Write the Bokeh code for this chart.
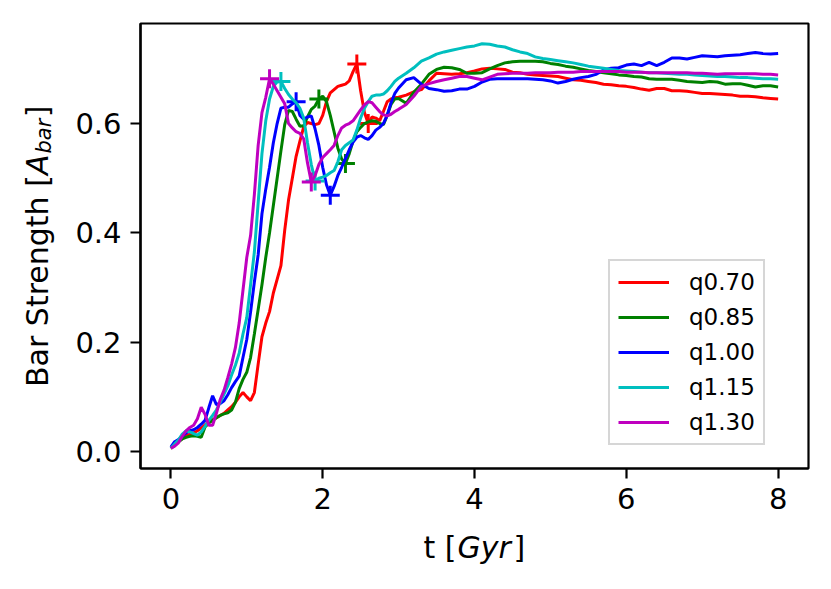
import math
from bokeh.plotting import figure
from bokeh.layouts import column, row
from bokeh.models import Label, Legend, LegendItem, FixedTicker, NumeralTickFormatter, Range1d
from bokeh.embed import file_html
from bokeh.resources import INLINE

# time grid (Gyr): 0.05 steps to 3.0, then 0.1 steps to 8.0
T = [round(0.05 * i, 2) for i in range(61)] + [round(3.0 + 0.1 * i, 1) for i in range(1, 51)]

LABELS = ["q0.70", "q0.85", "q1.00", "q1.15", "q1.30"]
COLORS = ["#ff0000", "#008000", "#0000ff", "#00bfbf", "#bf00bf"]

q070 = [0.006, 0.012, 0.018, 0.024, 0.030, 0.031, 0.034, 0.038, 0.043, 0.049,
        0.054, 0.058, 0.062, 0.066, 0.070, 0.076, 0.082, 0.090, 0.100, 0.108,
        0.100, 0.093, 0.108, 0.160, 0.210, 0.235, 0.256, 0.290, 0.315, 0.340,
        0.405, 0.460, 0.500, 0.540, 0.568, 0.594, 0.602, 0.600, 0.598, 0.600,
        0.615, 0.640, 0.656, 0.662, 0.668, 0.670, 0.672, 0.678, 0.695, 0.709,
        0.660, 0.620, 0.600, 0.612, 0.610, 0.605, 0.622, 0.640, 0.645, 0.647,
        0.648,
        0.652, 0.658, 0.662, 0.678, 0.692, 0.691, 0.690, 0.691, 0.693, 0.696,
        0.700, 0.701, 0.700, 0.699, 0.694, 0.693, 0.690, 0.689, 0.688, 0.687,
        0.686, 0.683, 0.680, 0.679, 0.677, 0.675, 0.672, 0.671, 0.669, 0.668,
        0.666, 0.663, 0.661, 0.664, 0.664, 0.660, 0.660, 0.659, 0.657, 0.655,
        0.655, 0.654, 0.653, 0.652, 0.650, 0.650, 0.649, 0.647, 0.646, 0.645]

q085 = [0.006, 0.012, 0.018, 0.023, 0.026, 0.028, 0.029, 0.028, 0.026, 0.045,
        0.052, 0.057, 0.062, 0.066, 0.069, 0.071, 0.076, 0.090, 0.115, 0.132,
        0.145, 0.172, 0.215, 0.260, 0.305, 0.355, 0.400, 0.450, 0.500, 0.550,
        0.598, 0.624, 0.622, 0.608, 0.595, 0.596, 0.612, 0.626, 0.632, 0.645,
        0.650, 0.640, 0.615, 0.585, 0.555, 0.535, 0.527, 0.545, 0.568, 0.585,
        0.593, 0.600, 0.603, 0.605, 0.604, 0.600, 0.598, 0.615, 0.635, 0.645,
        0.646,
        0.637, 0.657, 0.672, 0.690, 0.699, 0.703, 0.702, 0.699, 0.692, 0.692,
        0.693, 0.700, 0.706, 0.711, 0.713, 0.714, 0.714, 0.714, 0.713, 0.710,
        0.708, 0.705, 0.703, 0.700, 0.697, 0.695, 0.693, 0.691, 0.689, 0.688,
        0.686, 0.685, 0.682, 0.681, 0.681, 0.681, 0.679, 0.677, 0.676, 0.675,
        0.677, 0.676, 0.672, 0.673, 0.673, 0.670, 0.667, 0.669, 0.669, 0.667]

q100 = [0.008, 0.018, 0.022, 0.028, 0.034, 0.038, 0.040, 0.044, 0.050, 0.057,
        0.080, 0.102, 0.086, 0.088, 0.093, 0.104, 0.117, 0.128, 0.138, 0.172,
        0.205, 0.255, 0.310, 0.360, 0.435, 0.480, 0.520, 0.565, 0.600, 0.628,
        0.630, 0.630, 0.636, 0.640, 0.615, 0.608, 0.612, 0.614, 0.590, 0.560,
        0.520, 0.488, 0.469, 0.485, 0.505, 0.520, 0.536, 0.552, 0.566, 0.575,
        0.578, 0.574, 0.571, 0.578, 0.588, 0.593, 0.600, 0.615, 0.638, 0.655,
        0.665,
        0.680, 0.684, 0.672, 0.664, 0.662, 0.659, 0.660, 0.663, 0.663, 0.668,
        0.676, 0.681, 0.682, 0.682, 0.682, 0.682, 0.682, 0.681, 0.680, 0.678,
        0.674, 0.677, 0.681, 0.684, 0.686, 0.690, 0.698, 0.701, 0.702, 0.707,
        0.709, 0.706, 0.712, 0.706, 0.712, 0.720, 0.720, 0.718, 0.721, 0.724,
        0.723, 0.722, 0.724, 0.725, 0.726, 0.728, 0.730, 0.728, 0.727, 0.728]

q115 = [0.006, 0.014, 0.021, 0.032, 0.038, 0.036, 0.033, 0.030, 0.036, 0.046,
        0.057, 0.066, 0.076, 0.090, 0.105, 0.120, 0.140, 0.158, 0.180, 0.215,
        0.245, 0.305, 0.365, 0.455, 0.545, 0.605, 0.645, 0.668, 0.676, 0.677,
        0.664, 0.653, 0.645, 0.638, 0.628, 0.610, 0.565, 0.525, 0.495, 0.500,
        0.502, 0.505, 0.510, 0.514, 0.530, 0.552, 0.560, 0.565, 0.570, 0.588,
        0.610, 0.628, 0.640, 0.650, 0.652, 0.652, 0.654, 0.660, 0.668, 0.677,
        0.683,
        0.692, 0.702, 0.714, 0.720, 0.727, 0.731, 0.734, 0.737, 0.740, 0.742,
        0.746, 0.745, 0.742, 0.740, 0.735, 0.731, 0.728, 0.722, 0.719, 0.717,
        0.715, 0.713, 0.711, 0.708, 0.705, 0.703, 0.701, 0.699, 0.697, 0.696,
        0.695, 0.694, 0.693, 0.693, 0.692, 0.691, 0.690, 0.690, 0.689, 0.688,
        0.687, 0.686, 0.686, 0.685, 0.684, 0.684, 0.683, 0.682, 0.682, 0.681]

q130 = [0.006, 0.010, 0.016, 0.028, 0.038, 0.044, 0.048, 0.060, 0.081, 0.068,
        0.048, 0.048, 0.070, 0.095, 0.112, 0.135, 0.160, 0.190, 0.235, 0.295,
        0.355, 0.395, 0.470, 0.560, 0.620, 0.648, 0.682, 0.672, 0.660, 0.648,
        0.636, 0.600, 0.592, 0.585, 0.582, 0.572, 0.528, 0.493, 0.505, 0.525,
        0.538, 0.545, 0.552, 0.560, 0.578, 0.592, 0.597, 0.600, 0.605, 0.615,
        0.625, 0.634, 0.640, 0.638, 0.630, 0.622, 0.616, 0.614, 0.617, 0.622,
        0.626,
        0.635, 0.650, 0.668, 0.673, 0.677, 0.680, 0.683, 0.686, 0.686, 0.683,
        0.680, 0.685, 0.690, 0.691, 0.692, 0.692, 0.692, 0.693, 0.693, 0.693,
        0.694, 0.694, 0.694, 0.695, 0.695, 0.695, 0.695, 0.695, 0.695, 0.694,
        0.694, 0.694, 0.693, 0.693, 0.693, 0.693, 0.693, 0.693, 0.692, 0.692,
        0.691, 0.690, 0.691, 0.691, 0.691, 0.691, 0.691, 0.690, 0.690, 0.689]

SERIES = [q070, q085, q100, q115, q130]

# marked extrema (t, A_bar) per series
MARK_T = [[2.45, 2.60], [1.95, 2.30], [1.65, 2.10], [1.45, 1.90], [1.30, 1.85]]
MARK_V = [[0.709, 0.600], [0.645, 0.527], [0.640, 0.469], [0.677, 0.495], [0.682, 0.493]]

XTICKS = [0, 2, 4, 6, 8]
YTICKS = [0.0, 0.2, 0.4, 0.6]

FONT = "DejaVu Sans"
TICK_FS = "29px"
LF = "30px"
SUB_FS = "21px"

# ---------------- main plot ----------------
p = figure(width=759, height=530, output_backend="svg", toolbar_location=None,
           x_range=Range1d(-0.4, 8.4), y_range=Range1d(-0.031, 0.783),
           min_border_left=68, min_border_right=23, min_border_top=23,
           min_border_bottom=62)
p.background_fill_color = "white"
p.border_fill_color = "white"
p.grid.visible = False
p.outline_line_color = "black"
p.outline_line_width = 2.2

for ax in (p.xaxis, p.yaxis):
    ax.axis_line_color = "black"
    ax.axis_line_width = 2.2
    ax.major_tick_line_color = "black"
    ax.major_tick_line_width = 2.2
    ax.major_tick_out = 10
    ax.major_tick_in = 0
    ax.minor_tick_line_color = None
    ax.major_label_text_font = FONT
    ax.major_label_text_font_size = TICK_FS
    ax.major_label_text_color = "black"
    ax.major_label_standoff = 9

p.xaxis.ticker = FixedTicker(ticks=XTICKS)
p.yaxis.ticker = FixedTicker(ticks=YTICKS)
p.xaxis.formatter = NumeralTickFormatter(format="0")
p.yaxis.formatter = NumeralTickFormatter(format="0.0")

items = []
for lab, col, ys, mt, mv in zip(LABELS, COLORS, SERIES, MARK_T, MARK_V):
    r = p.line(T, ys, line_color=col, line_width=3)
    p.scatter(mt, mv, marker="cross", size=19, line_color=col, line_width=3)
    items.append(LegendItem(label=lab, renderers=[r]))

legend = Legend(items=items, location=(468, 23), margin=0, padding=8,
                glyph_width=51, glyph_height=20, label_height=20,
                label_standoff=20, spacing=9,
                label_text_font=FONT, label_text_font_size="23px",
                label_text_color="black",
                border_line_color="#cccccc", border_line_width=2,
                border_line_alpha=0.8,
                background_fill_color="white", background_fill_alpha=0.8)
p.add_layout(legend)


def strip(w, h):
    f = figure(width=w, height=h, output_backend="svg", toolbar_location=None,
               x_range=Range1d(0, 1), y_range=Range1d(0, 1),
               x_axis_type=None, y_axis_type=None,
               min_border_left=0, min_border_right=0, min_border_top=0,
               min_border_bottom=0)
    f.grid.visible = False
    f.outline_line_color = None
    f.background_fill_color = "white"
    f.border_fill_color = "white"
    return f


# ---------------- y label strip (left); its frame lines up with the main frame ----------------
ys_fig = strip(72, 530)
yl_x = 37
y_parts = [("Bar Strength [", "normal", LF, yl_x, 81.5),
           ("A", "italic", LF, yl_x, 293.5),
           ("bar", "italic", SUB_FS, yl_x + 6, 315.0),
           ("]", "normal", LF, yl_x, 351.3)]
for txt, style, fs, xx, yy in y_parts:
    ys_fig.add_layout(Label(x=xx, y=yy, x_units="screen", y_units="screen", text=txt,
                            angle=math.pi / 2, angle_units="rad",
                            text_font=FONT, text_font_size=fs, text_font_style=style,
                            text_align="left", text_baseline="alphabetic",
                            text_color="black"))

# ---------------- x label strip (bottom) ----------------
xs_fig = strip(831, 59)
xl_y = 42
x_parts = [("t [", "normal", 423.0), ("Gyr", "italic", 457.0), ("]", "normal", 513.0)]
for txt, style, xx in x_parts:
    xs_fig.add_layout(Label(x=xx, y=xl_y, x_units="screen", y_units="screen", text=txt,
                            text_font=FONT, text_font_size=LF, text_font_style=style,
                            text_align="left", text_baseline="alphabetic",
                            text_color="black"))

layout = column(row(ys_fig, p, spacing=0), xs_fig, spacing=0)
open("out.html", "w").write(file_html(layout, INLINE))
